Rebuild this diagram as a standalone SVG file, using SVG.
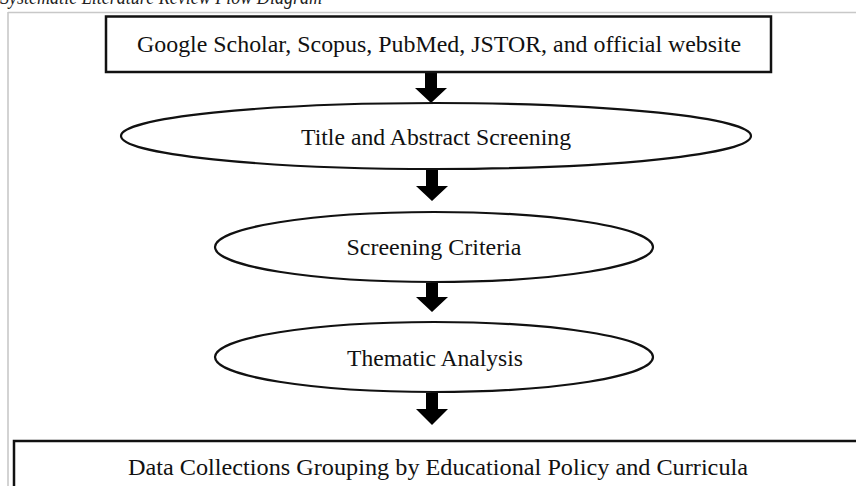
<svg xmlns="http://www.w3.org/2000/svg" width="856" height="486" viewBox="0 0 856 486">
<style>
.t{font-family:"Liberation Serif","Times New Roman",serif;font-size:24px;fill:#111;text-anchor:middle}
.cap{font-family:"Liberation Serif","Times New Roman",serif;font-size:20px;font-style:italic;fill:#222}
.box{fill:#fff;stroke:#111;stroke-width:2.5}
.ell{fill:#fff;stroke:#111;stroke-width:2.2}
.arr{fill:#000}
</style>
<rect width="856" height="486" fill="#fff"/>
<text class="cap" x="0" y="4" textLength="322" lengthAdjust="spacingAndGlyphs">Systematic Literature Review Flow Diagram</text>
<g id="frame">
<line x1="8" y1="12.5" x2="856" y2="12.5" stroke="#c8c8c8" stroke-width="1.6"/>
<line x1="8" y1="12" x2="8" y2="486" stroke="#c8c8c8" stroke-width="1.6"/>
</g>
<g id="connectors">
<polygon class="arr" points="425,73 437,73 437,88 447,88 431,103 415,88 425,88"/>
<polygon class="arr" points="426,170 438,170 438,186 448,186 432,201 416,186 426,186"/>
<polygon class="arr" points="426,283 438,283 438,297 448,297 432,312 416,297 426,297"/>
<polygon class="arr" points="426,393 438,393 438,409 448,409 432,425 416,409 426,409"/>
</g>
<g id="sources">
<rect class="box" x="106" y="16.5" width="665" height="55.5"/>
<text class="t" x="439" y="52" textLength="604" lengthAdjust="spacingAndGlyphs">Google Scholar, Scopus, PubMed, JSTOR, and official website</text>
</g>
<g id="title-abstract">
<ellipse class="ell" cx="436" cy="136" rx="315" ry="33"/>
<text class="t" x="436" y="145" textLength="270" lengthAdjust="spacingAndGlyphs">Title and Abstract Screening</text>
</g>
<g id="screening-criteria">
<ellipse class="ell" cx="434" cy="247" rx="219" ry="35"/>
<text class="t" x="434" y="255" textLength="175" lengthAdjust="spacingAndGlyphs">Screening Criteria</text>
</g>
<g id="thematic-analysis">
<ellipse class="ell" cx="434" cy="357" rx="219" ry="35"/>
<text class="t" x="435" y="366" textLength="176" lengthAdjust="spacingAndGlyphs">Thematic Analysis</text>
</g>
<g id="data-collections">
<rect class="box" x="14" y="441" width="860" height="60"/>
<text class="t" x="438" y="475" textLength="620" lengthAdjust="spacingAndGlyphs">Data Collections Grouping by Educational Policy and Curricula</text>
</g>
</svg>
